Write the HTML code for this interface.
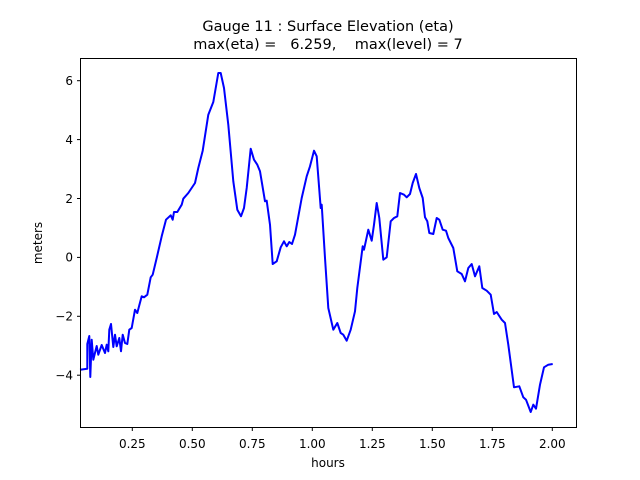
<!DOCTYPE html>
<html><head><meta charset="utf-8"><style>body{margin:0;background:#fff}svg{display:block}text{font-family:"DejaVu Sans","Liberation Sans",sans-serif;fill:#000}</style></head><body>
<svg width="640" height="480" xmlns="http://www.w3.org/2000/svg">
<rect width="640" height="480" fill="#fff"/>
<text x="328" y="31" font-size="14.5" text-anchor="middle">Gauge 11 : Surface Elevation (eta)</text>
<text x="328" y="49" font-size="14.5" text-anchor="middle" xml:space="preserve">max(eta) =   6.259,    max(level) = 7</text>
<polyline fill="none" stroke="#0000ff" stroke-width="2" stroke-linejoin="round" points="80,369.7 87.3,368.7 87.3,344 89.3,336 90.3,377 91.7,339.7 93.3,359.7 96.7,346 98.3,354.7 101.7,345 105,353 106.7,344.7 108.3,351.3 109.3,329.7 111,324 113.3,347 115,334.7 116.7,346.3 119.3,338 121,351.3 122.7,334.7 125,343 127.3,344 129.3,329.7 131.7,328 135,309.7 137.3,313 139.3,305.3 141.7,296.3 144,297.3 147.3,294.7 150.7,277.3 152.7,274.7 156.7,258 161.7,236.3 166,219.7 170.7,215.3 172.7,219.7 174,212 177.3,212 181.7,204.7 183.3,198.7 188.3,193 195,183 198.3,168 202.7,150.7 208.3,114.7 213.3,102 218.3,73 220.7,73 224,88 228.3,124.7 233.3,181.3 237.3,209.7 241,216.3 244,208 246.7,188 250.7,148.7 254,159.7 257.3,164.7 260,171.3 265,201.3 266.7,200.7 270,224.7 272.7,264 276.7,261.3 280.7,247.3 284,241.3 286.7,246.3 289.3,242 292,244 295,234.7 301.7,198 306.7,176.3 310,166.3 314,150.7 316.7,156.3 320.7,208 321.7,204.7 325,258 328.3,308 333.3,329.7 337.3,323 340.7,333 343.3,334.7 346.7,340.7 350.7,329.7 355,311.3 357.3,288 362.7,246.3 364,249.7 368.3,229.7 371.7,240.7 374,224.7 376.7,203 379.3,218 383.3,259.7 386.7,257.3 390.7,221.3 394,218 397.3,216.3 400,193 404,194.7 406.7,197.3 410,194 412.7,183 416,174 419.3,188 422.7,198 425,217.3 427.3,221.3 429.3,233 433.3,234 436.7,218 439.3,219.7 442.7,229.7 446,230.7 448.3,238 453.3,248 457.3,271.3 461.7,274 465,281.3 468.3,268 471.7,264 475,276.3 479.3,266.3 482.3,288 486.7,290.7 490.7,294.7 494,314 496.7,312 501.7,319.7 505,323 508.3,344.7 514,387.3 519.3,386.3 523.3,397.3 526,399.7 530.7,412 533.3,404.7 536,408.7 540,384.7 544,367.3 548.3,364.7 552.7,364"/>
<rect x="80.5" y="58.5" width="496" height="369" fill="none" stroke="#000" stroke-width="1"/>
<g stroke="#000" stroke-width="1">
<line x1="132.3" y1="427.5" x2="132.3" y2="431"/><line x1="192.3" y1="427.5" x2="192.3" y2="431"/><line x1="252.3" y1="427.5" x2="252.3" y2="431"/><line x1="312.3" y1="427.5" x2="312.3" y2="431"/><line x1="372.3" y1="427.5" x2="372.3" y2="431"/><line x1="432.3" y1="427.5" x2="432.3" y2="431"/><line x1="492.3" y1="427.5" x2="492.3" y2="431"/><line x1="552.3" y1="427.5" x2="552.3" y2="431"/>
<line x1="77" y1="80.7" x2="80.5" y2="80.7"/><line x1="77" y1="139.6" x2="80.5" y2="139.6"/><line x1="77" y1="198.5" x2="80.5" y2="198.5"/><line x1="77" y1="257.4" x2="80.5" y2="257.4"/><line x1="77" y1="316.3" x2="80.5" y2="316.3"/><line x1="77" y1="375.2" x2="80.5" y2="375.2"/>
</g>
<g font-size="12" text-anchor="middle">
<text x="132.3" y="448">0.25</text><text x="192.3" y="448">0.50</text><text x="252.3" y="448">0.75</text><text x="312.3" y="448">1.00</text><text x="372.3" y="448">1.25</text><text x="432.3" y="448">1.50</text><text x="492.3" y="448">1.75</text><text x="552.3" y="448">2.00</text>
</g>
<g font-size="12" text-anchor="end">
<text x="73" y="85">6</text><text x="73" y="143.9">4</text><text x="73" y="202.8">2</text><text x="73" y="261.7">0</text><text x="73" y="320.6">−2</text><text x="73" y="379.5">−4</text>
</g>
<text x="328" y="467" font-size="12" text-anchor="middle">hours</text>
<text transform="translate(42,243) rotate(-90)" font-size="12" text-anchor="middle">meters</text>
</svg>
</body></html>
